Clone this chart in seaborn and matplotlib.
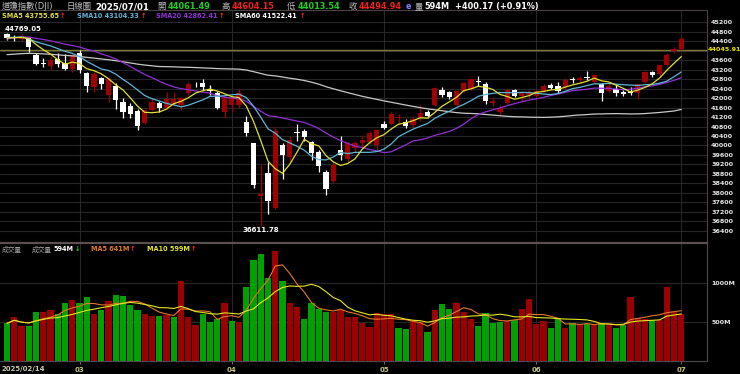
import numpy as np
import pandas as pd
import seaborn as sns
import matplotlib.pyplot as plt
from matplotlib.transforms import blended_transform_factory

# closes before the visible window, only used to warm up the moving averages
warmup_close = [43389.60, 43268.94, 43408.47, 43870.35, 44296.51, 44736.57, 44860.31, 44722.06, 44910.65,
                44782.00, 44705.53, 45014.04, 44765.71, 44642.52, 44401.93, 44247.83, 44148.56, 43914.12,
                43828.06, 43717.48, 43449.90, 42326.87, 42342.24, 42840.26, 42906.95, 43297.03, 43325.80,
                42992.21, 42573.73, 42544.22,
                42392.27, 42732.13, 42706.56, 42528.36, 42635.20, 41938.45, 42297.12, 42518.28, 43221.55,
                43153.13, 43487.83, 44025.81, 44156.73, 44565.07, 44424.25, 44713.58, 44850.35, 44713.52,
                44882.13, 44544.66,
                44421.91, 44556.04, 44873.28, 44747.63, 44303.40, 44470.41, 44593.65, 44368.56, 44711.43]

close = [44546.08, 44556.34, 44627.59, 44176.65, 43428.02, 43461.21, 43621.16, 43433.12, 43239.50, 43840.91,
         43191.24, 42520.99, 43006.59, 42579.08, 42801.72, 41911.71, 41433.48, 41350.93, 40813.57, 41488.19,
         41841.63, 41581.31, 41964.63, 41953.32, 41985.35, 42583.32, 42587.50, 42454.79, 42299.70, 41583.90,
         42001.76,
         41989.96, 42225.32, 40545.93, 38314.86, 37965.60, 37645.59, 40608.45, 39593.66, 40212.71, 40524.79,
         40368.96, 39669.39, 39142.23, 38170.41, 39186.98, 39606.57, 40093.40, 40113.50, 40227.59, 40527.62,
         40669.36,
         40752.96, 41317.43, 41218.83, 40829.00, 41113.97, 41368.45, 41249.38, 42410.10, 42140.43, 42051.06,
         42322.75, 42654.74, 42792.07, 42677.24, 41860.44, 41859.09, 41603.07, 42343.65, 42098.70, 42215.73,
         42270.07,
         42305.48, 42519.64, 42427.74, 42319.74, 42762.87, 42761.76, 42866.87, 42865.77, 42967.62, 42197.79,
         42515.09, 42215.80, 42171.66, 42206.82, 42581.78, 43089.02, 42982.43, 43386.84, 43819.27, 44094.77,
         44494.94]

open_ = [44711, 44600, 44480, 44550, 43820, 43480, 43350, 43650, 43500, 43250,
         43900, 43050, 42450, 42850, 42150, 42520, 41850, 41650, 41450, 40950, 41500, 41780, 41600, 41750,
         41700, 42230, 42600, 42650, 42400, 42230, 41400,
         41700, 41720, 41000, 40090, 37880, 38825, 37350, 40000, 39500, 40560, 40600, 40160, 39740, 38900,
         38500, 39800, 39450, 39900, 40100, 40150, 40000,
         40900, 40900, 41150, 41000, 40850, 41150, 41400, 41700, 42350, 42250, 41700, 42300, 42400, 42720,
         42600, 41780, 41400, 41800, 42350, 42100, 42150,
         42100, 42300, 42550, 42500, 42450, 42790, 42750, 42900, 42700, 42600, 42300, 42400, 42250, 42300,
         42200, 42700, 43100, 43000, 43400, 44000,
         44061.49]

high = [44769.05, 44650, 44700, 44600, 43900, 43700, 43720, 43900, 43850, 43880,
        44030, 43100, 43150, 42900, 42900, 42650, 42000, 41800, 41550, 41560, 42000, 41900, 42250, 42250,
        42050, 42700, 42700, 42800, 42550, 42300, 42050,
        42100, 42400, 41250, 40100, 39220, 39320, 40780, 40100, 40400, 40900, 40700, 40200, 39800, 38950,
        39300, 40400, 40150, 40200, 40450, 40600, 40700,
        41050, 41400, 41350, 41100, 41250, 41700, 41500, 42450, 42480, 42300, 42350, 42700, 42850, 42950,
        42700, 42050, 41700, 42400, 42400, 42300, 42350,
        42350, 42600, 42650, 42700, 42850, 42900, 42950, 43150, 43000, 42650, 42650, 42600, 42350, 42450,
        42600, 43150, 43150, 43400, 43900, 44150,
        44604.15]

low = [44460, 44400, 44420, 43960, 43380, 43300, 43250, 43300, 43200, 43100,
       43050, 42250, 42250, 42400, 41850, 41550, 41150, 41150, 40660, 40900, 41450, 41400, 41550, 41650,
       41500, 42150, 42450, 42350, 42150, 41530, 41150,
       41400, 41600, 40400, 38200, 36611.78, 37100, 37300, 38600, 39250, 40200, 40200, 39400, 38900, 37900,
       38400, 39400, 39300, 39700, 39900, 40050, 39750,
       40700, 40850, 40950, 40750, 40750, 41050, 41150, 41650, 42050, 41950, 41650, 42250, 42350, 42500,
       41750, 41650, 41300, 41750, 42050, 41850, 42000,
       41950, 42250, 42400, 42200, 42400, 42650, 42700, 42750, 42650, 41900, 42250, 42100, 42100, 42150,
       41950, 42650, 42900, 42950, 43350, 43900,
       44013.54]

volume_m = [480, 556, 449, 449, 620, 620, 650, 595, 736, 778,
            736, 820, 595, 650, 765, 842, 830, 715, 650, 600, 575, 575, 590, 555, 1025, 555, 458, 600,
            500, 535, 736,
            515, 500, 950, 1290, 1365, 1055, 1410, 1025, 736, 693, 535, 736, 664, 630, 620, 650, 565, 565,
            480, 436, 608,
            595, 595, 423, 410, 510, 500, 372, 650, 727, 664, 736, 620, 535, 449, 608, 480, 500, 510, 520,
            664, 791,
            470, 510, 415, 535, 423, 480, 470, 470, 470, 480, 458, 420, 460, 820, 550, 535, 520, 520, 950,
            620, 594]

ref_line = 44045.91
month_labels = ["03", "04", "05", "06", "07"]

sns.set_theme(style="dark", rc={"axes.facecolor": "black", "figure.facecolor": "black"})
plt.rcParams["font.family"] = ["DejaVu Sans", "Noto Sans CJK TC"]

dates = pd.bdate_range("2025-02-14", "2025-07-01")
dates = dates[~dates.isin(pd.to_datetime(["2025-02-17", "2025-04-18", "2025-05-26", "2025-06-19"]))]

df = pd.DataFrame({"date": dates, "open": open_, "high": high, "low": low,
                   "close": close, "vol": volume_m})
df["idx"] = np.arange(len(df))
full = pd.Series(warmup_close + close)
n0 = len(warmup_close)
for n in (5, 10, 20, 60):
    df[f"sma{n}"] = full.rolling(n).mean().iloc[n0:].values
df["vma5"] = df["vol"].rolling(5, min_periods=1).mean()
df["vma10"] = df["vol"].rolling(10, min_periods=1).mean()
prev = full.shift(1).iloc[n0:].values
month_idx = [i for i in range(1, len(df)) if df["date"][i].month != df["date"][i - 1].month]

RED, WHITE = "#a00000", "#ffffff"
VRED, VGREEN = "#9a0000", "#00a000"
GRID = "#262626"

W, H = 740, 374
fig = plt.figure(figsize=(7.4, 3.74), dpi=100, facecolor="black")


def px_axes(x0, y0, x1, y1):
    return fig.add_axes([x0 / W, 1 - y1 / H, (x1 - x0) / W, (y1 - y0) / H])


ax = px_axes(0, 10, 707, 243)
axv = px_axes(0, 243, 707, 361)
xlim = (-0.966, 96.55)

# --- price pane ---
up = df["close"] >= df["open"]
ccol = np.where(up, RED, WHITE)
ax.vlines(df["idx"], df["low"], df["high"], colors=ccol, lw=0.9, zorder=3)
body = np.maximum((df["close"] - df["open"]).abs(), 18)
ax.bar(df["idx"], body, bottom=np.minimum(df["open"], df["close"]), width=0.7,
       color=ccol, linewidth=0, zorder=4)

ax.axhline(ref_line, color="#7c7c38", lw=1.0, zorder=2)
sns.lineplot(data=df, x="idx", y="sma60", ax=ax, color="#c8c8c8", lw=0.9, zorder=5)
sns.lineplot(data=df, x="idx", y="sma20", ax=ax, color="#9030d8", lw=0.9, zorder=5)
sns.lineplot(data=df, x="idx", y="sma10", ax=ax, color="#60b4d8", lw=0.9, zorder=5)
sns.lineplot(data=df, x="idx", y="sma5", ax=ax, color="#e0e030", lw=0.9, zorder=5)

ax.set_xlim(*xlim)
ax.set_ylim(35880, 45724)
yt = list(range(36400, 45201, 400))
ax.set_yticks(yt)
ax.set_yticklabels(["" if v == 44000 else str(v) for v in yt], fontweight="bold")
ax.yaxis.set_ticks_position("right")
ax.tick_params(axis="y", length=0, pad=3, labelsize=4.6, labelcolor="#e6e6e6")
ax.set_xticks(month_idx)
ax.tick_params(axis="x", length=0, labelbottom=False)
ax.grid(True, color=GRID, lw=0.8)
ax.set_xlabel("")
ax.set_ylabel("")
for s in ("left", "bottom"):
    ax.spines[s].set_visible(False)
for s in ("top", "right"):
    ax.spines[s].set_color("#4a4040")
    ax.spines[s].set_linewidth(0.8)

tr = blended_transform_factory(ax.transAxes, ax.transData)
ax.text(1.0 + 0.5 / 707, ref_line, f"{ref_line:.2f}", transform=tr, color="#e8e800",
        fontsize=4.6, fontweight="bold", va="center", ha="left")

imax = int(df["high"].idxmax())
imin = int(df["low"].idxmin())
ax.annotate(f"{df['high'][imax]:.2f}", xy=(imax, df["high"][imax]), xytext=(-2, 0.5),
            textcoords="offset points", ha="left", va="bottom", color="white",
            fontsize=5, fontweight="bold")
ax.annotate(f"{df['low'][imin]:.2f}", xy=(imin, df["low"][imin]), xytext=(0, -1),
            textcoords="offset points", ha="center", va="top", color="white",
            fontsize=5, fontweight="bold")

# --- volume pane ---
vcol = np.where(df["close"].values >= prev, VRED, VGREEN)
axv.bar(df["idx"], df["vol"], width=0.86, color=vcol, linewidth=0, zorder=3)
sns.lineplot(data=df, x="idx", y="vma5", ax=axv, color="#e07828", lw=0.8, zorder=5)
sns.lineplot(data=df, x="idx", y="vma10", ax=axv, color="#e6e620", lw=0.8, zorder=5)
axv.set_xlim(*xlim)
axv.set_ylim(-4, 1509)
axv.set_yticks([500, 1000])
axv.set_yticklabels(["500M", "1000M"], fontweight="bold")
axv.yaxis.set_ticks_position("right")
axv.tick_params(axis="y", length=0, pad=3, labelsize=4.6, labelcolor="#e6e6e6")
axv.set_xticks(month_idx)
axv.set_xticklabels(month_labels, fontweight="bold")
axv.tick_params(axis="x", length=2.5, width=0.6, color="#808080", pad=1.5,
                labelsize=5, labelcolor="#c8c878", bottom=True)
axv.grid(True, color=GRID, lw=0.8)
axv.set_xlabel("")
axv.set_ylabel("")
axv.spines["left"].set_visible(False)
axv.spines["top"].set_color("#5a5050")
axv.spines["top"].set_linewidth(1.6)
for s in ("right", "bottom"):
    axv.spines[s].set_color("#4a4a4a")
    axv.spines[s].set_linewidth(0.8)

# --- header texts ---
def t(x, y, s, color, size, bold=True):
    fig.text(x / W, 1 - y / H, s, color=color, fontsize=size, va="center", ha="left",
             fontweight="bold" if bold else "normal")


GRAY = "#bdbdbd"
GREEN_T, RED_T, ARROW = "#20d020", "#ee2020", "#ff3030"
y1 = 6.5
t(2, y1, "道瓊指數(DJI)", GRAY, 6, bold=False)
t(67, y1, "日線圖", GRAY, 6, bold=False)
t(95, y1, "2025/07/01", "white", 6.2)
t(157, y1, "開", GRAY, 6, bold=False)
t(168, y1, "44061.49", GREEN_T, 5.9)
t(221, y1, "高", GRAY, 6, bold=False)
t(232, y1, "44604.15", RED_T, 5.9)
t(287, y1, "低", GRAY, 6, bold=False)
t(298, y1, "44013.54", GREEN_T, 5.9)
t(349, y1, "收", GRAY, 6, bold=False)
t(359, y1, "44494.94", RED_T, 5.9)
t(406, y1, "e", "#8080ff", 5.9)
t(415, y1, "量", GRAY, 6, bold=False)
t(424, y1, "594M", "white", 5.9)
t(455, y1, "+400.17 (+0.91%)", "white", 5.9)

y2 = 16
t(2, y2, "SMA5 43755.65", "#e0e030", 4.7)
t(60, y2, "↑", ARROW, 4.7)
t(77, y2, "SMA10 43104.33", "#60b4d8", 4.7)
t(141, y2, "↑", ARROW, 4.7)
t(156, y2, "SMA20 42862.41", "#9030d8", 4.7)
t(219, y2, "↑", ARROW, 4.7)
t(235, y2, "SMA60 41522.41", "white", 4.7)
t(300, y2, "↑", ARROW, 4.7)

yv = 249
t(2, yv, "成交量", "#a0a0a0", 4.8, bold=False)
t(32, yv, "成交量", "#a0a0a0", 4.8, bold=False)
t(54, yv, "594M", "white", 4.7)
t(75, yv, "↓", "#20d020", 4.7)
t(91, yv, "MA5 641M", "#e07828", 4.7)
t(130, yv, "↑", ARROW, 4.7)
t(147, yv, "MA10 599M", "#e6e620", 4.7)
t(191, yv, "↑", ARROW, 4.7)

t(2, 369, df["date"][0].strftime("%Y/%m/%d"), "#c8c8b0", 5)

fig.savefig("out.png", dpi=100, facecolor="black")
